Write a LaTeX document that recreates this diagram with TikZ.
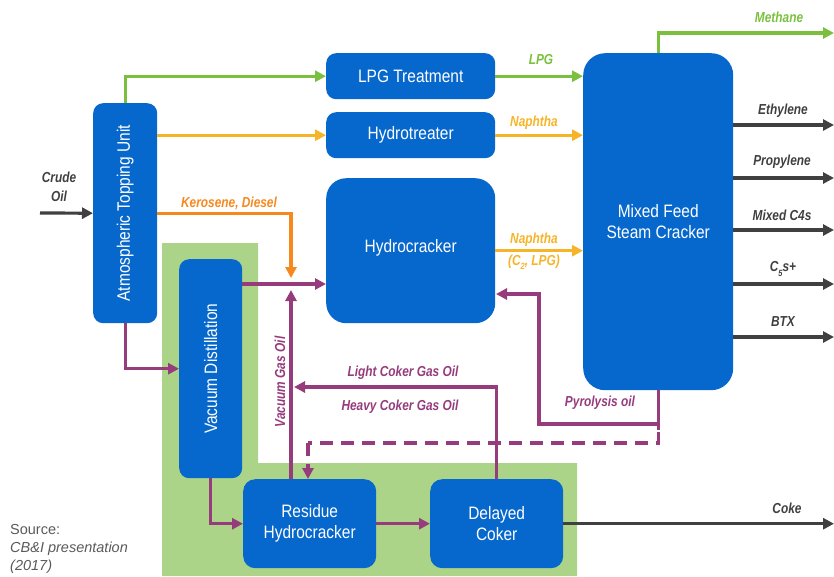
\documentclass[tikz,border=0pt]{standalone}
\usepackage{fontspec}
\usetikzlibrary{arrows.meta,calc}
\newfontfamily\boxfont{Liberation Sans}[FakeStretch=0.86]
\newfontfamily\lblfont{Liberation Sans}[FakeStretch=0.82]
\newfontfamily\srcfont{Liberation Sans}
\newcommand\lowidx[1]{\raisebox{-0.3em}{\fontsize{9}{9}\selectfont #1}}

\definecolor{unitblue}{RGB}{6,104,204}
\definecolor{lgreen}{RGB}{122,192,62}
\definecolor{lyellow}{RGB}{246,180,40}
\definecolor{lorange}{RGB}{246,136,30}
\definecolor{lpurple}{RGB}{150,60,125}
\definecolor{lgrey}{RGB}{64,64,64}
\definecolor{zonegreen}{RGB}{172,212,136}
\definecolor{srcgrey}{RGB}{90,90,90}

\tikzset{
  unit/.style={draw=none, fill=unitblue, rounded corners=10pt, inner sep=0pt,
    anchor=north west, text=white, align=center,
    font=\boxfont\fontsize{18}{21}\selectfont},
  unittext/.style={text=white, font=\boxfont\fontsize{18}{21}\selectfont},
  flow/.style={line width=3.2pt, -{Triangle[length=11pt,width=11pt]}},
  plain/.style={line width=3.2pt},
  lbl/.style={font=\lblfont\bfseries\itshape\fontsize{14.5}{16}\selectfont, inner sep=0pt},
}

\begin{document}
\begin{tikzpicture}[x=1pt, y=-1pt]
\useasboundingbox (0,0) rectangle (834,576);

% shaded residue-upgrading zone
\fill[zonegreen] (162,243) -- (258,243) -- (258,463) -- (577,463) -- (577,576) -- (162,576) -- cycle;

% process units
\node[unit, minimum width=64pt, minimum height=220pt] (atu) at (93,103) {};
\node[unittext, rotate=90] at (atu.center) {Atmospheric Topping Unit};
\node[unit, minimum width=63pt, minimum height=219pt] (vd) at (179,259) {};
\node[unittext, rotate=90] at (vd.center) {Vacuum Distillation};
\node[unit, minimum width=169pt, minimum height=46pt] (lpgt) at (326,53) {LPG Treatment};
\node[unit, minimum width=169pt, minimum height=46pt] (ht) at (326,112) {Hydrotreater};
\node[unit, minimum width=169pt, minimum height=145pt, rounded corners=20pt] (hc) at (326,178) {\raisebox{10pt}{Hydrocracker}};
\node[unit, minimum width=150pt, minimum height=337pt, rounded corners=22pt] (mfsc) at (583,53) {Mixed Feed\\Steam Cracker};
\node[unit, minimum width=133pt, minimum height=89pt, rounded corners=12pt] (rh) at (243,479) {Residue\\Hydrocracker};
\node[unit, minimum width=133pt, minimum height=89pt, rounded corners=12pt] (dc) at (430,479) {Delayed\\Coker};

% junction points
\coordinate (crudein) at (40,213);
\coordinate (jn) at (291,284);
\coordinate (kdend) at (291,278);
\coordinate (vgoend) at (291,290);
\coordinate (lcend) at (294,387);
\coordinate (py1) at (539,424);
\coordinate (pyend) at (496,294);
\coordinate (ds) at (308,443);
\coordinate (outx) at (834,0);

% crude feed
\draw[flow, lgrey] (crudein) -- (atu.west);

% topping unit products
\draw[flow, lgreen] (atu.north) |- (lpgt.west);
\draw[flow, lyellow] (atu.east |- ht.west) -- (ht.west);
\draw[flow, lorange] (atu.east) -| (kdend);
\draw[flow, lpurple] (atu.south) |- (vd.west);

% vacuum section
\draw[flow, lpurple] (vd.east |- jn) -- (hc.west |- jn);
\draw[flow, lpurple] (vd.south) |- (rh.west);
\draw[flow, lpurple] (rh.north -| jn) -- (vgoend);
\draw[flow, lpurple] (rh.east) -- (dc.west);
\draw[flow, lpurple] (dc.north) |- (lcend);

% steam cracker feeds
\draw[flow, lgreen] (lpgt.east) -- (mfsc.west |- lpgt.east);
\draw[flow, lyellow] (ht.east) -- (mfsc.west |- ht.east);
\draw[flow, lyellow] (hc.east) -- (mfsc.west |- hc.east);

% pyrolysis oil recycle
\draw[plain, lpurple, dash pattern=on 13pt off 8pt] (mfsc.south) |- (ds);
\draw[flow, lpurple, dash pattern=on 13pt off 8pt] (ds) -- (rh.north -| ds);
\draw[plain, lpurple] (mfsc.south) -- ++(0,40);
\draw[flow, lpurple] (mfsc.south) |- (py1) |- (pyend);

% steam cracker products
\draw[flow, lgreen] (mfsc.north) |- (outx |- 0,33);
\foreach \yy in {125,178,230,284,337}
  \draw[flow, lgrey] (mfsc.east |- 0,\yy) -- (outx |- 0,\yy);
\draw[flow, lgrey] (dc.east) -- (outx |- dc.east);

% stream labels
\node[lbl, text=lgrey, align=center] at (59,187) {Crude\\[3pt]Oil};
\node[lbl, text=lorange] at (229,203) {Kerosene, Diesel};
\node[lbl, text=lgreen] at (541,60) {LPG};
\node[lbl, text=lyellow] at (534,123) {Naphtha};
\node[lbl, text=lyellow] at (534,240) {Naphtha};
\node[lbl, text=lyellow] at (534,262) {(C\lowidx{2}, LPG)};
\node[lbl, text=lgreen] at (779,17) {Methane};
\node[lbl, text=lgrey] at (783,111) {Ethylene};
\node[lbl, text=lgrey] at (782,162) {Propylene};
\node[lbl, text=lgrey] at (782,215) {Mixed C4s};
\node[lbl, text=lgrey] at (783,269) {C\lowidx{5}s+};
\node[lbl, text=lgrey] at (783,322) {BTX};
\node[lbl, text=lgrey] at (787,508) {Coke};
\node[lbl, text=lpurple] at (403,373) {Light Coker Gas Oil};
\node[lbl, text=lpurple] at (400,407) {Heavy Coker Gas Oil};
\node[lbl, text=lpurple] at (600,403) {Pyrolysis oil};
\node[lbl, text=lpurple, rotate=90] at (280,382) {Vacuum Gas Oil};

% source note
\node[anchor=north west, inner sep=0pt, align=left, text=srcgrey,
  font=\srcfont\fontsize{14.5}{18}\selectfont] (src) at (10,524)
  {Source:\\\itshape CB\&I presentation\\\itshape (2017)};
\end{tikzpicture}
\end{document}
